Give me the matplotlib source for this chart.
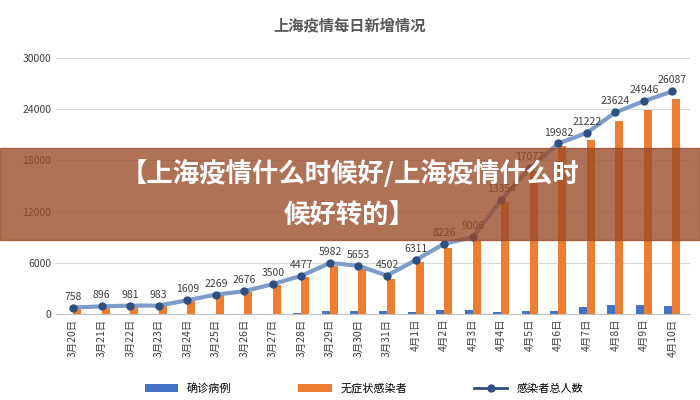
# 上海疫情每日新增情况
import numpy as np
import matplotlib.pyplot as plt
from matplotlib import font_manager as fm
from matplotlib.patches import Rectangle

dates = ['3月20日', '3月21日', '3月22日', '3月23日', '3月24日', '3月25日', '3月26日', '3月27日',
         '3月28日', '3月29日', '3月30日', '3月31日', '4月1日', '4月2日', '4月3日', '4月4日',
         '4月5日', '4月6日', '4月7日', '4月8日', '4月9日', '4月10日']
confirmed = [24, 31, 4, 4, 29, 38, 45, 50, 96, 326, 355, 358, 260, 438, 425, 268,
             311, 322, 824, 1015, 1006, 914]
asymptomatic = [734, 865, 977, 979, 1580, 2231, 2631, 3450, 4381, 5656, 5298, 4144, 6051,
                7788, 8581, 13086, 16766, 19660, 20398, 22609, 23937, 25173]
total = [758, 896, 981, 983, 1609, 2269, 2676, 3500, 4477, 5982, 5653, 4502, 6311,
         8226, 9006, 13354, 17077, 19982, 21222, 23624, 24946, 26087]

# make sure a CJK font is registered
for f in fm.findSystemFonts():
    if 'CJK' in f:
        fm.fontManager.addfont(f)
cjk = [f.name for f in fm.fontManager.ttflist if 'CJK' in f.name]
plt.rcParams['font.family'] = (['Noto Sans CJK SC'] if 'Noto Sans CJK SC' in cjk else cjk[:1]) + ['DejaVu Sans']

fig = plt.figure(figsize=(7, 4), dpi=100)
ax = fig.add_axes([0.08, 0.215, 0.905, 0.64])
x = np.arange(len(dates))
w = 0.28
b1 = ax.bar(x - w / 2, confirmed, w, color='#4472c4', label='确诊病例')
b2 = ax.bar(x + w / 2, asymptomatic, w, color='#ed7d31', label='无症状感染者')
ax.plot(x, total, color='#7f9cc9', lw=3, zorder=3)
ax.plot(x, total, 'o', color='#2f4f7f', ms=5, zorder=4)
ln, = ax.plot([], [], '-o', color='#2f4f7f', lw=2, ms=5)
for i, v in enumerate(total):
    ax.text(i, v + 700, str(v), ha='center', va='bottom', fontsize=7.5, color='#404040')

ax.set_ylim(0, 30000)
ax.set_yticks(range(0, 30001, 6000))
ax.set_xlim(-0.6, len(dates) - 0.4)
ax.set_xticks(x)
ax.set_xticklabels(dates, rotation=90, fontsize=7.5, color='#404040')
ax.tick_params(axis='y', labelsize=7.5, colors='#404040', length=0)
ax.tick_params(axis='x', length=0)
ax.grid(axis='y', color='#d9d9d9', lw=0.8)
ax.set_axisbelow(True)
for s in ['top', 'right', 'left']:
    ax.spines[s].set_visible(False)
ax.spines['bottom'].set_color('#bfbfbf')

fig.legend([b1, b2, ln], ['确诊病例', '无症状感染者', '感染者总人数'], loc='lower center', ncol=3,
           frameon=False, fontsize=8, bbox_to_anchor=(0.52, -0.01), handlelength=3,
           columnspacing=6)
fig.text(0.5, 0.925, '上海疫情每日新增情况', ha='center', fontsize=11, fontweight='bold', color='#595959')

fig.patches.append(Rectangle((0, 0.4), 1, 0.23, transform=fig.transFigure,
                             color='#9a4a28', alpha=0.78, zorder=10))
fig.text(0.5, 0.565, '【上海疫情什么时候好/上海疫情什么时', ha='center', va='center',
         fontsize=19, fontweight='bold', color='white', zorder=11)
fig.text(0.5, 0.46, '候好转的】', ha='center', va='center',
         fontsize=19, fontweight='bold', color='white', zorder=11)

fig.savefig('out.png')
